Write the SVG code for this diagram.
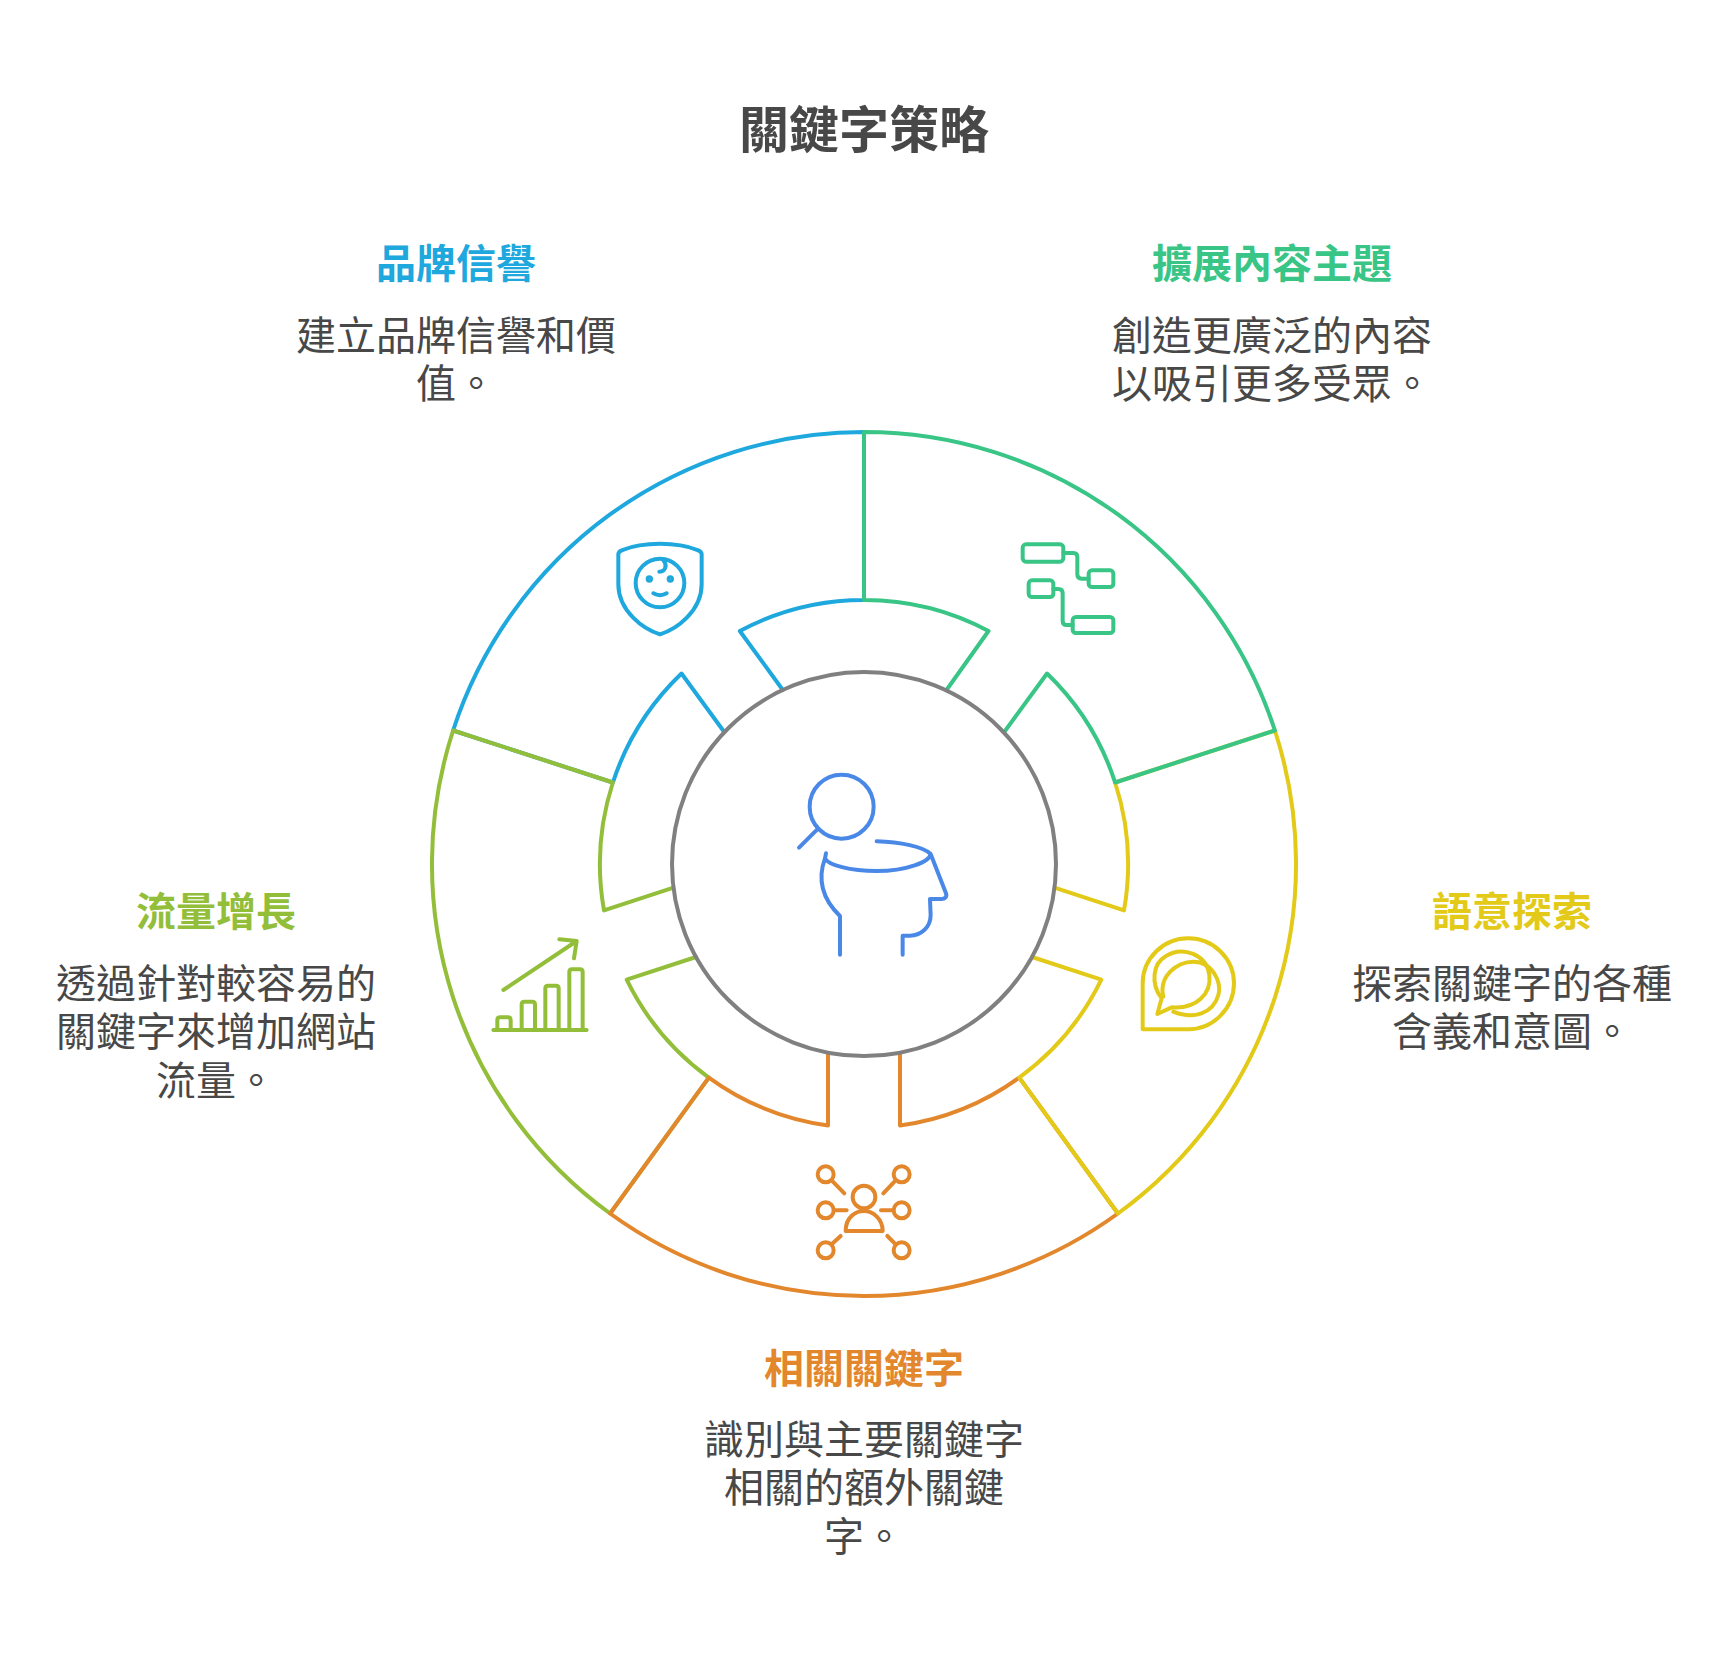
<svg xmlns="http://www.w3.org/2000/svg" width="1728" height="1656" viewBox="0 0 1728 1656">
<style>
text{font-family:"Noto Sans CJK TC","Noto Sans CJK SC",sans-serif;text-anchor:middle}
.t{font-size:50px;font-weight:700;fill:#484848}
.h{font-size:40px;font-weight:700}
.b{font-size:40px;font-weight:400;fill:#484848}
.s{fill:none;stroke-width:4;stroke-linejoin:round;stroke-linecap:round}
.i{fill:none;stroke-width:12;stroke-linejoin:round;stroke-linecap:round}
.blue{stroke:#1ea8dd}.green{stroke:#38c585}.yellow{stroke:#e3ca18}.orange{stroke:#e3872d}.lime{stroke:#93be3a}.gray{stroke:#808080}.bl{stroke:#4a88e8}
</style>
<rect width="1728" height="1656" fill="#fff"/>
<text class="t" x="864" y="148">關鍵字策略</text>
<g id="n-blue">
<path class="s blue" d="M864 432A432 432 0 0 0 453.1 730.5L612.9 782.5A264 264 0 0 1 681.5 673.5L723.5 731M782.8 690L739.8 631A264 264 0 0 1 864 600L864 432"/>
<g class="i blue" transform="translate(580 521) scale(.3333)">
<path d="M115 100C115 92 120 90 125 88C190 62 290 62 355 88C360 90 365 94 365 100L365 190C365 270 290 325 240 340C190 325 115 270 115 190Z"/>
<circle cx="240" cy="186" r="73"/>
<circle cx="208" cy="174" r="5"/><circle cx="271" cy="174" r="5"/>
<path d="M220 217Q240 228 260 217M250 118C262 130 258 152 238 152"/>
</g>
<text class="h" x="456" y="278" fill="#1ea8dd">品牌信譽</text>
<text class="b" x="456" y="350">建立品牌信譽和價</text>
<text class="b" x="456" y="398">值。</text>
</g>
<g id="n-lime">
<path class="s lime" d="M453.1 730.5A432 432 0 0 0 610.1 1213.5L708.8 1077.6A264 264 0 0 1 626.7 979.7L696 957M672 888.1L604 910.4A264 264 0 0 1 612.9 782.5L453.1 730.5"/>
<g class="i lime" transform="translate(480 926) scale(.3333)">
<path d="M40 312H320M52 312V282Q52 274 60 274H84Q92 274 92 282V312M125 312V235Q125 227 133 227H157Q165 227 165 235V312M196 312V187Q196 179 204 179H228Q236 179 236 187V312M268 312V138Q268 130 276 130H300Q308 130 308 138V312M70 192L290 45M238 40L290 45L282 97"/>
</g>
<text class="h" x="216" y="926" fill="#93be3a">流量增長</text>
<text class="b" x="216" y="998">透過針對較容易的</text>
<text class="b" x="216" y="1046">關鍵字來增加網站</text>
<text class="b" x="216" y="1095">流量。</text>
</g>
<g id="n-orange">
<path class="s orange" d="M610.1 1213.5A432 432 0 0 0 1117.9 1213.5L1019.2 1077.6A264 264 0 0 1 900 1125.5L900 1055M828 1055L828 1125.5A264 264 0 0 1 708.8 1077.6L610.1 1213.5"/>
<g class="i orange" transform="translate(800 1151) scale(.3333)">
<circle cx="77" cy="70" r="24"/><circle cx="305" cy="70" r="24"/><circle cx="77" cy="178" r="24"/><circle cx="305" cy="178" r="24"/><circle cx="77" cy="298" r="24"/><circle cx="305" cy="298" r="24"/>
<path d="M95 88L133 127M287 88L250 127M102 178H140M280 178H243M95 280L122 255M287 280L262 255"/>
<circle cx="192" cy="138" r="34"/>
<path d="M137 240C137 200 165 180 192 180C220 180 248 205 248 240Z"/>
</g>
<text class="h" x="864" y="1383" fill="#e3872d">相關關鍵字</text>
<text class="b" x="864" y="1454">識別與主要關鍵字</text>
<text class="b" x="864" y="1502">相關的額外關鍵</text>
<text class="b" x="864" y="1551">字。</text>
</g>
<g id="n-yellow">
<path class="s yellow" d="M1274.9 730.5A432 432 0 0 1 1117.9 1213.5L1019.2 1077.6A264 264 0 0 0 1101.3 979.7L1032 957M1056 888.1L1124 910.4A264 264 0 0 0 1115.1 782.5L1274.9 730.5"/>
<g class="i yellow" transform="translate(1120 920) scale(.3333)">
<path d="M68 328L68 190C68 115 130 55 205 55C280 55 342 115 342 190C342 265 280 328 205 328Z"/>
<path d="M125 235C90 190 100 130 135 110C190 75 260 105 268 165C275 220 230 268 155 262L112 282Z"/>
<path d="M130 230C115 170 170 125 220 125C280 125 305 190 295 225C280 280 220 300 160 275"/>
</g>
<text class="h" x="1512" y="926" fill="#e3ca18">語意探索</text>
<text class="b" x="1512" y="998">探索關鍵字的各種</text>
<text class="b" x="1512" y="1046">含義和意圖。</text>
</g>
<g id="n-green">
<path class="s green" d="M864 432A432 432 0 0 1 1274.9 730.5L1115.1 782.5A264 264 0 0 0 1047 673.5L1005 731M946.5 690L988.5 631A264 264 0 0 0 864 600L864 432"/>
<g class="i green" transform="translate(1000 521) scale(.3333)">
<rect x="68" y="70" width="122" height="52" rx="10"/><rect x="266" y="148" width="74" height="50" rx="10"/><rect x="86" y="178" width="74" height="50" rx="10"/><rect x="218" y="288" width="122" height="48" rx="10"/>
<path d="M190 96H220Q232 96 232 108V160Q232 173 245 173H266M160 204H175Q188 204 188 216V300Q188 312 200 312H218"/>
</g>
<text class="h" x="1272" y="278" fill="#38c585">擴展內容主題</text>
<text class="b" x="1272" y="350">創造更廣泛的內容</text>
<text class="b" x="1272" y="398">以吸引更多受眾。</text>
</g>
<g id="n-center">
<circle class="s gray" cx="864" cy="864" r="192"/>
<g class="i bl" transform="translate(700 680) scale(.3333)">
<circle cx="425" cy="380" r="96"/>
<path d="M352 448L297 503M530 484C600 486 670 500 692 522C690 545 620 573 530 573C450 573 385 555 375 535L378 520M375 535C355 590 360 650 420 708L420 824M692 522L738 640C742 650 735 657 725 657L690 657L692 705C692 745 660 767 630 767L608 767L608 824"/>
</g>
</g>
</svg>
